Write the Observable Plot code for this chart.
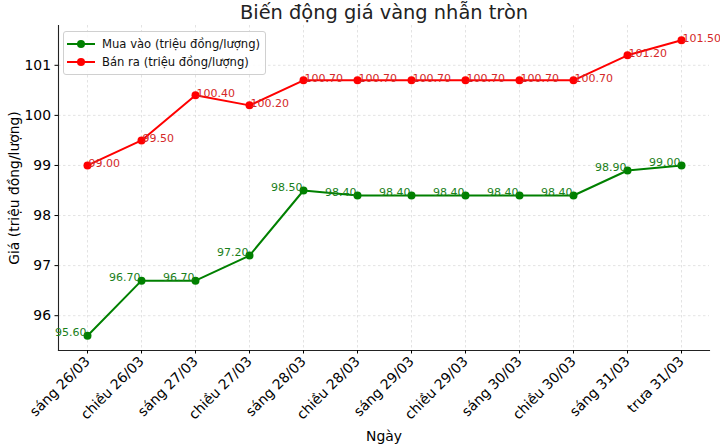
<!DOCTYPE html>
<html><head><meta charset="utf-8">
<script src="https://cdn.jsdelivr.net/npm/d3@7"></script>
<script src="https://cdn.jsdelivr.net/npm/@observablehq/plot@0.6"></script>
<style>
body{margin:0;background:#fff;font-family:"DejaVu Sans",sans-serif;}
#wrap{position:relative;width:720px;height:445px;}
#wrap g[aria-label="x-axis tick label"], #wrap g[aria-label="y-axis tick label"]{font-size:13.9px;}
#wrap g[aria-label="x-axis label"], #wrap g[aria-label="y-axis label"]{font-size:13.9px;}
#legend{position:absolute;left:63px;top:31px;width:203px;height:44px;box-sizing:border-box;border:1px solid #d0d0d0;border-radius:3px;background:rgba(255,255,255,0.85);font-size:11.6px;color:#111;}
.row{position:absolute;left:0;height:18px;display:flex;align-items:center;}
.row svg{margin-left:3px;margin-right:7px;}
</style>
</head><body><div id="wrap"></div>
<script>
const sessions = ["sáng 26/03","chiều 26/03","sáng 27/03","chiều 27/03","sáng 28/03","chiều 28/03","sáng 29/03","chiều 29/03","sáng 30/03","chiều 30/03","sáng 31/03","trưa 31/03"];
const buyPrices  = [95.6, 96.7, 96.7, 97.2, 98.5, 98.4, 98.4, 98.4, 98.4, 98.4, 98.9, 99.0];
const sellPrices = [99.0, 99.5, 100.4, 100.2, 100.7, 100.7, 100.7, 100.7, 100.7, 100.7, 101.2, 101.5];
const yTicks = [96, 97, 98, 99, 100, 101];
const seriesNames = ["Mua vào (triệu đồng/lượng)", "Bán ra (triệu đồng/lượng)"];
const seriesColors = ["green", "red"];
const labelColors = ["#1a801a", "#d42828"];
const title = "Biến động giá vàng nhẫn tròn";
const xLabel = "Ngày";
const yLabel = "Giá (triệu đồng/lượng)";

const buyRows = sessions.map((s, i) => ({session: s, value: buyPrices[i], series: seriesNames[0]}));
const sellRows = sessions.map((s, i) => ({session: s, value: sellPrices[i], series: seriesNames[1]}));
const rows = buyRows.concat(sellRows);
const all = buyPrices.concat(sellPrices);
const lo = d3.min(all), hi = d3.max(all), m = (hi - lo) * 0.05;

const gridStyle = {stroke: "#b0b0b0", strokeOpacity: 0.45, strokeDasharray: "2.5,2.5", strokeWidth: 0.8};

const chart = Plot.plot({
  width: 720, height: 445,
  marginLeft: 58, marginRight: 11, marginTop: 25, marginBottom: 95,
  style: {fontFamily: "DejaVu Sans", fontSize: "13.9px", color: "#000", background: "transparent"},
  x: {type: "point", domain: sessions, padding: 0.5},
  y: {domain: [lo - m, hi + m]},
  color: {domain: seriesNames, range: seriesColors},
  marks: [
    Plot.gridX(sessions, gridStyle),
    Plot.gridY(yTicks, gridStyle),
    Plot.frame({anchor: "left", stroke: "#222", strokeWidth: 1.1}),
    Plot.frame({anchor: "bottom", stroke: "#222", strokeWidth: 1.1}),
    Plot.axisX({tickRotate: -45, tickSize: 3.5, tickPadding: 5,
      label: xLabel, labelAnchor: "center", labelArrow: "none", labelOffset: 90}),
    Plot.axisY(yTicks, {tickSize: 3.5, tickPadding: 4, tickFormat: "d",
      label: yLabel, labelAnchor: "center", labelArrow: "none", labelOffset: 49}),
    Plot.line(rows, {x: "session", y: "value", z: "series", stroke: "series", strokeWidth: 2}),
    Plot.dot(rows, {x: "session", y: "value", fill: "series", r: 4}),
    Plot.text(buyRows, {x: "session", y: "value", text: d => d.value.toFixed(2), textAnchor: "end", dx: -1, dy: -3, fill: labelColors[0], fontSize: 11}),
    Plot.text(sellRows, {x: "session", y: "value", text: d => d.value.toFixed(2), textAnchor: "start", dx: 1, dy: -2, fill: labelColors[1], fontSize: 11}),
    Plot.text([title], {frameAnchor: "top", dy: -20, fontSize: 19.4, fill: "#222"})
  ]
});
const wrap = document.getElementById("wrap");
wrap.appendChild(chart);

const legend = document.createElement("div");
legend.id = "legend";
seriesNames.forEach((name, i) => {
  const row = document.createElement("div");
  row.className = "row";
  row.style.top = (3 + i * 18) + "px";
  row.innerHTML = `<svg width="28" height="10"><line x1="0" y1="5" x2="28" y2="5" stroke="${seriesColors[i]}" stroke-width="2"/><circle cx="14" cy="5" r="4" fill="${seriesColors[i]}"/></svg><span>${name}</span>`;
  legend.appendChild(row);
});
wrap.appendChild(legend);
</script>
</body></html>
